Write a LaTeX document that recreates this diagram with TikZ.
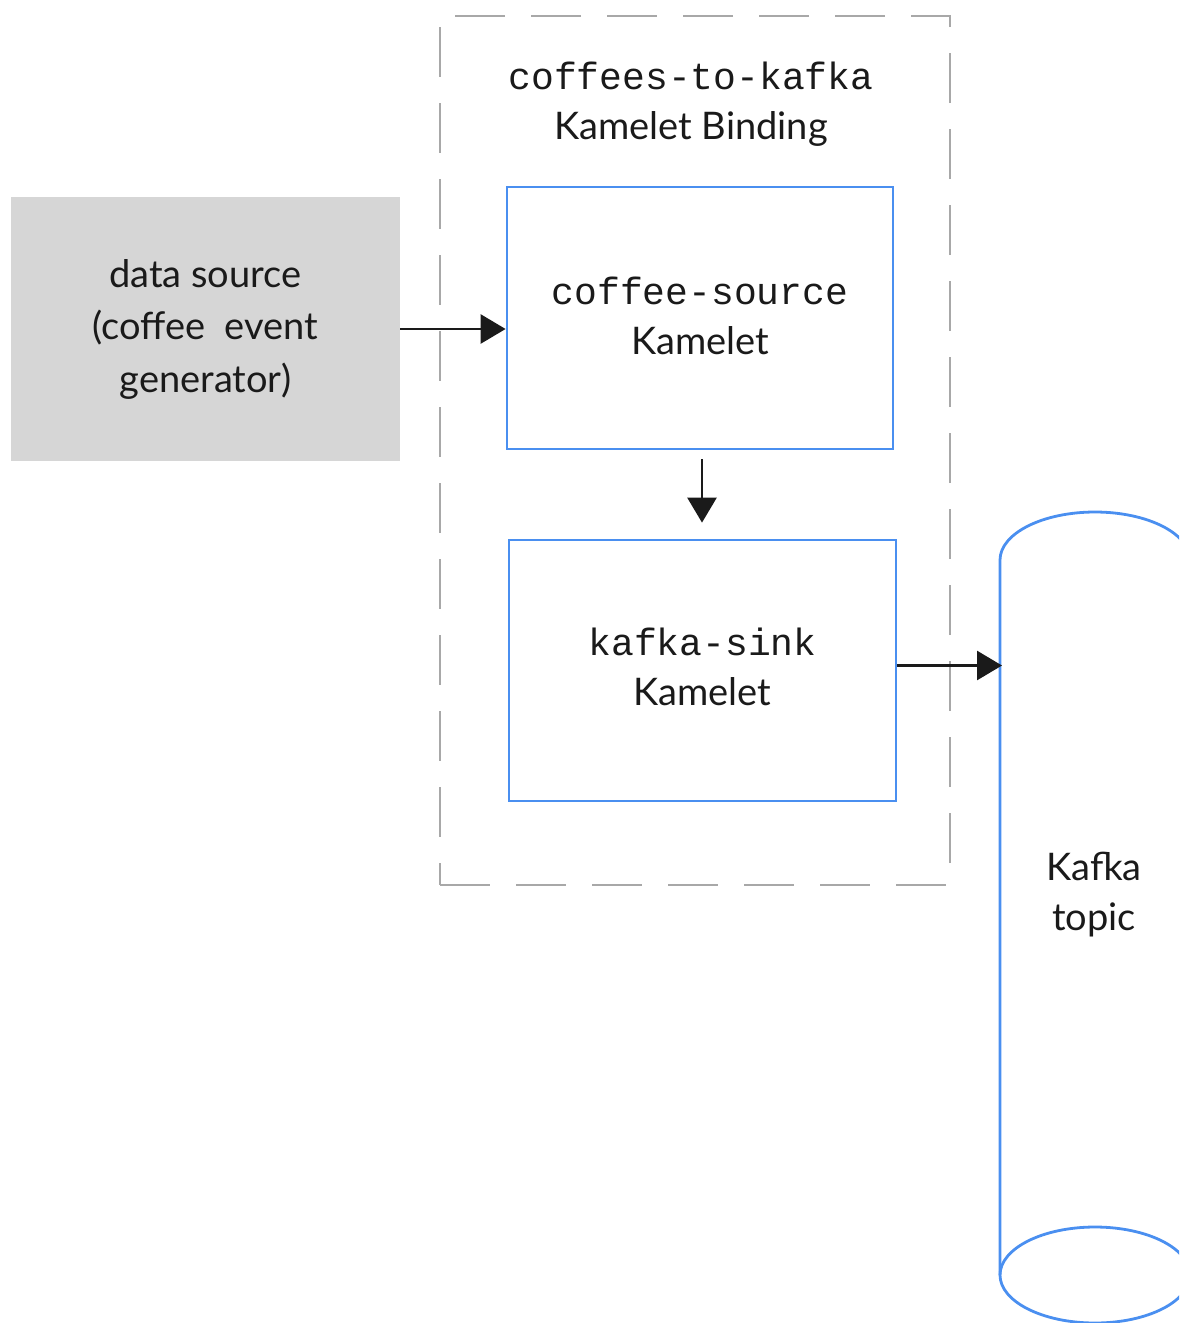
\documentclass[tikz,border=0pt]{standalone}
\usepackage{fontspec}
\setmainfont{Lato}
\setmonofont{Liberation Mono}
\usetikzlibrary{arrows.meta}
\definecolor{kblue}{HTML}{4A8FF0}
\definecolor{kgray}{HTML}{D6D6D6}
\definecolor{dgray}{HTML}{A8A8A8}
\definecolor{ink}{HTML}{1A1A1A}
\begin{document}
\begin{tikzpicture}[x=1pt,y=-1pt,
  kbox/.style={draw=kblue, line width=2.8pt, minimum width=386pt, minimum height=262pt, inner sep=0pt},
  lbl/.style={align=center, text=ink, font=\fontsize{38}{50}\selectfont},
  flow/.style={line width=2.8pt, draw=ink, -{Triangle[length=25pt,width=29pt]}},
  cyl/.style={draw=kblue, line width=2.8pt},
]
\useasboundingbox (0,0) rectangle (1179,1323);
\clip (0,0) rectangle (1179,1323);
% binding frame
\node[draw=dgray, line width=2.8pt, dash pattern=on 50pt off 26pt, minimum width=510pt, minimum height=869pt, inner sep=0pt] (binding) at (695,450.5) {};
\node[lbl] (bindtitle) at (691,104) {{\ttfamily\fontsize{38}{50}\selectfont coffees-to-kafka}\\Kamelet Binding};
% data source
\node[fill=kgray, minimum width=389pt, minimum height=264pt, inner sep=0pt, lbl, font=\fontsize{38}{52.5}\selectfont] (ds) at (205.5,329) {data source\\(coffee\ \ event\\generator)};
% kamelets
\node[kbox, label={[lbl, yshift=2pt]center:{{\ttfamily\fontsize{38}{50}\selectfont coffee-source}\\Kamelet}}] (src) at (700,318) {};
\node[kbox, minimum width=387pt, minimum height=261pt, label={[lbl, yshift=4pt]center:{{\ttfamily\fontsize{38}{50}\selectfont kafka-sink}\\Kamelet}}] (snk) at (702.5,670.5) {};
% cylinder
\draw[cyl] (1000,1275) -- (1000,560) arc[start angle=180, end angle=360, x radius=95, y radius=48] -- (1190,1275);
\draw[cyl] (1095,1275) ellipse[x radius=95, y radius=48];
\coordinate (cylL) at (1002,560);
\node[lbl] (topic) at (1094,895) {Kafka\\topic};
% connectors
\draw[flow] (ds.east) -- (ds.east -| src.west);
\draw[flow, shorten <=9pt, shorten >=16pt] ([xshift=2pt]src.south) -- ([xshift=2pt]src.south |- snk.north);
\draw[flow] ([yshift=5pt]snk.east) -- ([yshift=5pt]snk.east -| cylL);
\end{tikzpicture}
\end{document}
